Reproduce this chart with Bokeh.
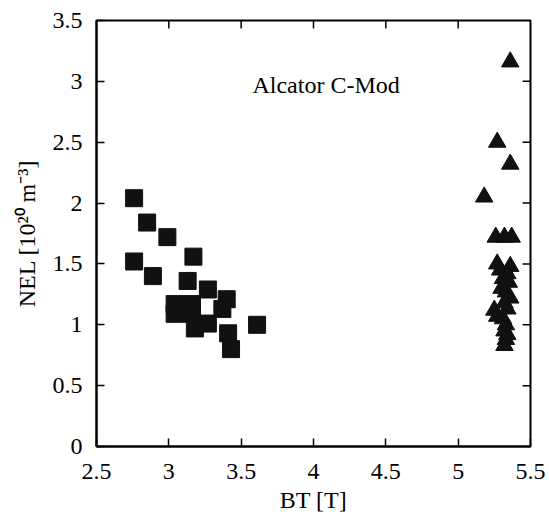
from bokeh.plotting import figure
from bokeh.models import Range1d, FixedTicker, Label
from bokeh.embed import file_html
from bokeh.resources import INLINE

# ---- data ----
sq_bt = [2.76, 2.85, 2.99, 3.17, 2.76, 2.89, 3.13, 3.27, 3.40,
         3.04, 3.04, 3.16, 3.16, 3.18, 3.27, 3.37, 3.41, 3.43, 3.61]
sq_nel = [2.04, 1.84, 1.72, 1.56, 1.52, 1.40, 1.36, 1.29, 1.21,
          1.17, 1.09, 1.17, 1.09, 0.97, 1.01, 1.13, 0.93, 0.80, 1.00]

tri_bt = [5.36, 5.27, 5.36, 5.18, 5.26, 5.32, 5.37,
          5.27, 5.36, 5.29, 5.34, 5.31, 5.35, 5.30, 5.33, 5.36, 5.32,
          5.25, 5.27, 5.34, 5.31, 5.33, 5.32, 5.34, 5.33, 5.32]
tri_nel = [3.16, 2.50, 2.32, 2.05, 1.72, 1.72, 1.72,
           1.50, 1.48, 1.45, 1.42, 1.38, 1.35, 1.30, 1.27, 1.22, 1.18,
           1.12, 1.07, 1.13, 1.05, 1.00, 0.95, 0.92, 0.88, 0.83]

x_ticks = [2.5, 3, 3.5, 4, 4.5, 5, 5.5]
x_tick_labels = ["2.5", "3", "3.5", "4", "4.5", "5", "5.5"]
y_ticks = [0, 0.5, 1, 1.5, 2, 2.5, 3, 3.5]
y_tick_labels = ["0", "0.5", "1", "1.5", "2", "2.5", "3", "3.5"]

x_label = "BT [T]"
y_label = "NEL [10²⁰ m⁻³]"
title_text = "Alcator C-Mod"

X_MIN, X_MAX = 2.5, 5.5
Y_MIN, Y_MAX = 0.0, 3.5

FONT = "Liberation Serif"
FS = "24px"

p = figure(width=549, height=523, output_backend="svg", toolbar_location=None,
           x_range=Range1d(X_MIN, X_MAX), y_range=Range1d(Y_MIN, Y_MAX),
           min_border_left=96, min_border_right=19, min_border_top=20,
           min_border_bottom=77)
p.background_fill_color = "white"
p.border_fill_color = "white"
p.outline_line_color = "black"
p.outline_line_width = 2
p.grid.visible = False

def style_axis(ax, ticks, labels):
    ax.ticker = FixedTicker(ticks=ticks)
    ax.major_label_overrides = {t: l for t, l in zip(ticks, labels)}
    ax.major_tick_in = 8
    ax.major_tick_out = 0
    ax.minor_tick_line_color = None
    ax.axis_line_color = "black"
    ax.axis_line_width = 2
    ax.major_tick_line_color = "black"
    ax.major_tick_line_width = 1.5
    ax.major_label_text_font = FONT
    ax.major_label_text_color = "black"
    ax.major_label_text_font_size = FS
    ax.axis_label_text_font = FONT
    ax.axis_label_text_font_style = "normal"
    ax.axis_label_text_color = "black"
    ax.axis_label_text_font_size = FS

xa = p.xaxis[0]
ya = p.yaxis[0]
style_axis(xa, x_ticks, x_tick_labels)
style_axis(ya, y_ticks, y_tick_labels)
xa.axis_label = x_label
ya.axis_label = y_label
xa.major_label_standoff = 17
xa.axis_label_standoff = 5
ya.major_label_standoff = 14
ya.axis_label_standoff = 10

# inward tick marks on the top and right edges (same ticks, no labels)
tick_dx = 0.055   # ~8 px in x data units
tick_dy = 0.066   # ~8 px in y data units
inner_x = x_ticks[1:-1]
inner_y = y_ticks[1:-1]
p.segment(x0=inner_x, y0=[Y_MAX] * len(inner_x),
          x1=inner_x, y1=[Y_MAX - tick_dy] * len(inner_x),
          line_color="black", line_width=1.5)
p.segment(x0=[X_MAX] * len(inner_y), y0=inner_y,
          x1=[X_MAX - tick_dx] * len(inner_y), y1=inner_y,
          line_color="black", line_width=1.5)

p.scatter(sq_bt, sq_nel, marker="square", size=17, fill_color="#111111",
          line_color="#111111")
p.scatter(tri_bt, tri_nel, marker="triangle", size=17.5, fill_color="#111111",
          line_color="#111111")

p.add_layout(Label(x=3.578, y=2.972, text=title_text, text_font=FONT,
                   text_font_size=FS, text_color="black",
                   text_baseline="alphabetic", text_align="left"))

open("out.html", "w").write(file_html(p, INLINE))
